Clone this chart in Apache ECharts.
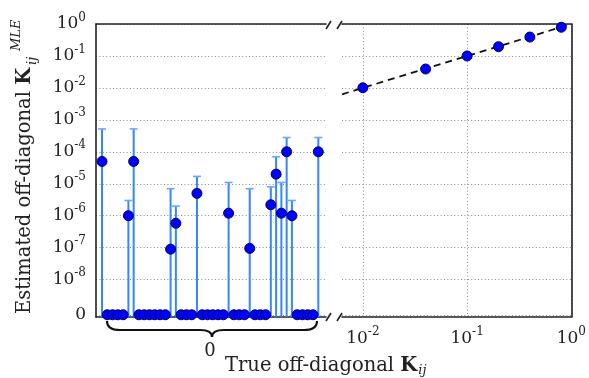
<!DOCTYPE html>
<html>
<head>
<meta charset="utf-8">
<script src="https://cdn.jsdelivr.net/npm/echarts@6/dist/echarts.min.js"></script>
<style>
html,body{margin:0;padding:0;background:#fff;}
#chart{width:589px;height:378px;}
</style>
</head>
<body>
<div id="chart"></div>
<script>
// ---------- data ----------
// Left panel: pairs whose true off-diagonal value is 0 (ordered by pair index)
const LEFT_EST = [5e-5, 0, 0, 0, 0, 1e-6, 5e-5, 0, 0, 0, 0, 0, 0, 9e-8, 5.8e-7, 0, 0, 0, 5e-6,
  0, 0, 0, 0, 0, 1.2e-6, 0, 0, 0, 9.5e-8, 0, 0, 0, 2.2e-6, 2e-5, 1.2e-6, 1e-4, 1e-6, 0, 0, 0, 0, 1e-4];
const LEFT_UPPER = [5.2e-4, null, null, null, null, 3e-6, 5.2e-4, null, null, null, null, null, null, 7e-6, 2e-6, null, null, null, 1.7e-5,
  null, null, null, null, null, 1.1e-5, null, null, null, 7e-6, null, null, null, 8e-6, 7e-5, 1.1e-5, 2.8e-4, 3e-6, null, null, null, null, 2.8e-4];
// Right panel: nonzero true values vs estimates
const RIGHT_TRUE = [0.01, 0.04, 0.1, 0.2, 0.4, 0.8];
const RIGHT_EST = [0.0101, 0.039, 0.1, 0.195, 0.39, 0.79];
// Reference line y = x
const FIT_X = [Math.pow(10, -2.2), 1];
// Tick values
const Y_TICKS = [1e-8, 1e-7, 1e-6, 1e-5, 1e-4, 1e-3, 1e-2, 1e-1, 1];
const X_TICKS = [0.01, 0.1, 1];
const ZERO_POS = Math.pow(10, -9.1);   // where the value 0 is shown on the log axis
const Y_MIN = Math.pow(10, -9.17);

// ---------- build ----------
const FONT = 'DejaVu Serif';
const chart = echarts.init(document.getElementById('chart'));
const pow10Label = function (v) {
  if (Math.abs(Math.log10(v) - Math.log10(ZERO_POS)) < 0.01) return '{b|0}';
  const e = Math.round(Math.log10(v));
  return '{b|10}{s|' + e + '}';
};
const labelRich = {
  b: {fontFamily: FONT, fontSize: 17, color: '#222'},
  s: {fontFamily: FONT, fontSize: 12, color: '#222', padding: [0, 0, 13, 0]}
};
const gridLine = {show: true, lineStyle: {color: '#8a8a8a', width: 1, type: [1, 2.4]}};
const border = {show: true, onZero: false, lineStyle: {color: '#222', width: 1.6}};

const leftPts = LEFT_EST.map((v, i) => [i, v === 0 ? ZERO_POS : v]);
const errPts = [];
LEFT_UPPER.forEach((u, i) => { if (u !== null) errPts.push([i, u]); });
const rightPts = RIGHT_TRUE.map((x, i) => [x, RIGHT_EST[i]]);

const yTickAll = [ZERO_POS].concat(Y_TICKS);
const dotStyle = {color: '#0000ff', borderColor: '#00005a', borderWidth: 1, opacity: 1};

const option = {
  animation: false,
  backgroundColor: '#fff',
  grid: [
    {left: 96, top: 24, width: 230, height: 293},
    {left: 342, top: 24, width: 230, height: 293}
  ],
  xAxis: [
    {gridIndex: 0, type: 'value', min: -1.14, max: 42.46, axisLine: border,
      axisTick: {show: false}, axisLabel: {show: false}, splitLine: {show: false}},
    {gridIndex: 1, type: 'log', min: Math.pow(10, -2.2), max: 1, axisLine: border,
      axisTick: {show: false, customValues: X_TICKS},
      axisLabel: {show: true, customValues: X_TICKS, formatter: pow10Label, rich: labelRich, margin: 9},
      splitLine: gridLine},
    {gridIndex: 0, type: 'value', position: 'top', min: 0, max: 1, axisLine: border,
      axisTick: {show: false}, axisLabel: {show: false}, splitLine: {show: false}},
    {gridIndex: 1, type: 'value', position: 'top', min: 0, max: 1, axisLine: border,
      axisTick: {show: false}, axisLabel: {show: false}, splitLine: {show: false}}
  ],
  yAxis: [
    {gridIndex: 0, type: 'log', min: Y_MIN, max: 1, axisLine: border,
      axisTick: {show: false, customValues: yTickAll},
      axisLabel: {show: true, customValues: yTickAll, formatter: pow10Label, rich: labelRich, margin: 10, align: 'right'},
      splitLine: gridLine},
    {gridIndex: 1, type: 'log', min: Y_MIN, max: 1, position: 'right', axisLine: border,
      axisTick: {show: false, customValues: yTickAll},
      axisLabel: {show: false, customValues: yTickAll},
      splitLine: gridLine}
  ],
  series: [
    {
      type: 'custom', xAxisIndex: 0, yAxisIndex: 0, data: errPts, z: 2,
      renderItem: function (params, api) {
        const x = api.value(0), hi = api.value(1);
        const top = api.coord([x, hi]);
        const bot = api.coord([x, Y_MIN]);
        return {
          type: 'group',
          children: [
            {type: 'line', shape: {x1: top[0], y1: top[1], x2: bot[0], y2: bot[1]},
              style: {stroke: '#3586ff', lineWidth: 2}},
            {type: 'line', shape: {x1: top[0] - 4, y1: top[1], x2: top[0] + 4, y2: top[1]},
              style: {stroke: '#6aa6ff', lineWidth: 1.6}}
          ]
        };
      }
    },
    {
      type: 'scatter', xAxisIndex: 0, yAxisIndex: 0, data: leftPts, z: 3,
      symbolSize: 10, itemStyle: dotStyle
    },
    {
      type: 'line', xAxisIndex: 1, yAxisIndex: 1, data: FIT_X.map(x => [x, x]), z: 2,
      symbol: 'none', lineStyle: {color: '#111', width: 1.8, type: [7, 5]}
    },
    {
      type: 'scatter', xAxisIndex: 1, yAxisIndex: 1, data: rightPts, z: 3,
      symbolSize: 10, itemStyle: dotStyle
    }
  ],
  graphic: [
    // axis break marks
    {type: 'line', shape: {x1: 326, y1: 29, x2: 331, y2: 21}, style: {stroke: '#222', lineWidth: 1.6}},
    {type: 'line', shape: {x1: 337, y1: 29, x2: 342, y2: 21}, style: {stroke: '#222', lineWidth: 1.6}},
    {type: 'line', shape: {x1: 326, y1: 321, x2: 331, y2: 313}, style: {stroke: '#222', lineWidth: 1.6}},
    {type: 'line', shape: {x1: 337, y1: 321, x2: 342, y2: 313}, style: {stroke: '#222', lineWidth: 1.6}},
    // brace under the zero group
    {type: 'bezierCurve', shape: {x1: 107, y1: 321, cpx1: 107, cpy1: 330, x2: 120, y2: 330}, style: {stroke: '#111', lineWidth: 2.2, fill: null}},
    {type: 'line', shape: {x1: 120, y1: 330, x2: 200, y2: 330}, style: {stroke: '#111', lineWidth: 2.2}},
    {type: 'bezierCurve', shape: {x1: 200, y1: 330, cpx1: 212, cpy1: 330, x2: 212, y2: 337}, style: {stroke: '#111', lineWidth: 2.2, fill: null}},
    {type: 'bezierCurve', shape: {x1: 212, y1: 337, cpx1: 212, cpy1: 330, x2: 224, y2: 330}, style: {stroke: '#111', lineWidth: 2.2, fill: null}},
    {type: 'line', shape: {x1: 224, y1: 330, x2: 304, y2: 330}, style: {stroke: '#111', lineWidth: 2.2}},
    {type: 'bezierCurve', shape: {x1: 304, y1: 330, cpx1: 317, cpy1: 330, x2: 317, y2: 321}, style: {stroke: '#111', lineWidth: 2.2, fill: null}},
    {type: 'text', x: 210, y: 351, style: {text: '0', font: '18px "DejaVu Serif"', fill: '#222', align: 'center', verticalAlign: 'middle'}},
    // x title
    {type: 'text', x: 225, y: 366, style: {
      text: '{n|True off-diagonal }{k|K}{sub|ij}', align: 'left', verticalAlign: 'middle',
      rich: {
        n: {fontFamily: FONT, fontSize: 19.5, fill: '#222'},
        k: {fontFamily: FONT, fontSize: 19.5, fontWeight: 'bold', fill: '#222'},
        sub: {fontFamily: FONT, fontSize: 13, fontStyle: 'italic', fill: '#222', padding: [9, 0, 0, 1]}
      }
    }},
    // y title
    {type: 'text', x: 25, y: 314, rotation: Math.PI / 2, style: {
      text: '{n|Estimated off-diagonal }{k|K}', align: 'left', verticalAlign: 'middle',
      rich: {
        n: {fontFamily: FONT, fontSize: 19.5, fill: '#222'},
        k: {fontFamily: FONT, fontSize: 19.5, fontWeight: 'bold', fill: '#222'}
      }
    }},
    {type: 'text', x: 33, y: 65, rotation: Math.PI / 2, style: {text: 'ij', font: 'italic 13px "DejaVu Serif"', fill: '#222', align: 'left', verticalAlign: 'middle'}},
    {type: 'text', x: 17, y: 51, rotation: Math.PI / 2, style: {text: 'MLE', font: 'italic 13px "DejaVu Serif"', fill: '#222', align: 'left', verticalAlign: 'middle'}}
  ]
};
chart.setOption(option);
</script>
</body>
</html>
